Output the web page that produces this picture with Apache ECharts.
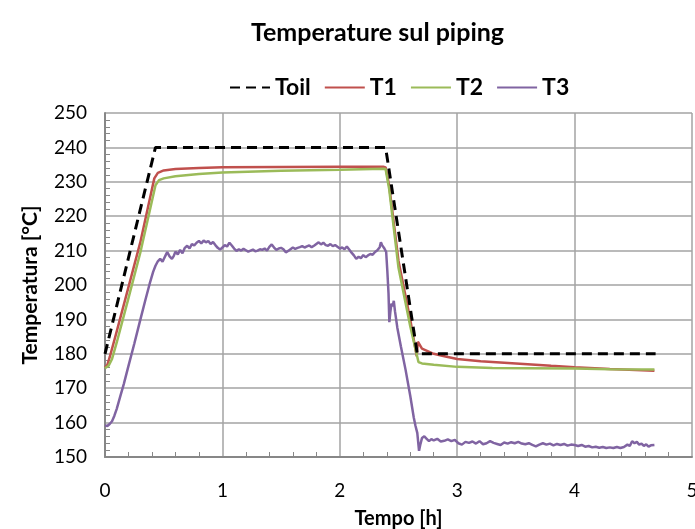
<!DOCTYPE html>
<html>
<head>
<meta charset="utf-8">
<script src="https://cdn.jsdelivr.net/npm/echarts@6/dist/echarts.min.js"></script>
<style>
  html, body { margin: 0; padding: 0; background: #fff; }
  #chart { width: 695px; height: 529px; }
</style>
</head>
<body>
<div id="chart"></div>
<script>
// Axis ticks
const xTicks = [0, 1, 2, 3, 4, 5];
const yTicks = [150, 160, 170, 180, 190, 200, 210, 220, 230, 240, 250];

// Toil: oil set-point temperature [°C] vs time [h]
const toilTime = [0, 0.43, 2.39, 2.66, 4.69];
const toilVal  = [180, 240, 240, 180, 180];

// T1: piping temperature 1
const t1Time = [0, 0.02, 0.04, 0.1, 0.2, 0.3, 0.42, 0.45, 0.5, 0.6, 0.8, 1.0, 1.5, 2.0, 2.37,
  2.39, 2.42, 2.5, 2.6, 2.655, 2.665, 2.7, 2.8, 2.9, 3.0, 3.2, 3.5, 3.8, 4.0, 4.3, 4.68];
const t1Val = [176.0, 176.8, 179.0, 186.5, 199.4, 212.3, 231.0, 232.6, 233.3, 233.7, 234.0, 234.2, 234.3, 234.4, 234.4,
  234.2, 229.0, 207.0, 190.0, 179.3, 183.5, 181.5, 180.0, 179.2, 178.5, 177.8, 177.2, 176.5, 176.1, 175.6, 175.1];

// T2: piping temperature 2
const t2Time = [0, 0.03, 0.06, 0.1, 0.2, 0.3, 0.43, 0.46, 0.5, 0.6, 0.8, 1.0, 1.5, 2.0, 2.37,
  2.39, 2.42, 2.5, 2.6, 2.67, 2.7, 2.8, 3.0, 3.3, 3.6, 4.0, 4.3, 4.68];
const t2Val = [175.8, 176.5, 178.5, 183.3, 196.2, 209.3, 229.0, 230.5, 231.0, 231.6, 232.3, 232.7, 233.2, 233.5, 233.8,
  233.7, 228.0, 205.0, 188.0, 177.6, 177.2, 176.8, 176.2, 175.9, 175.8, 175.7, 175.5, 175.4];

// T3: piping temperature 3
const t3Time = [0.00, 0.02, 0.04, 0.06, 0.08, 0.10, 0.13, 0.16, 0.20, 0.25, 0.30, 0.345, 0.38, 0.41, 0.43,
  0.45, 0.47, 0.49, 0.50, 0.52, 0.53, 0.55, 0.57, 0.585, 0.60, 0.62, 0.64, 0.66, 0.68, 0.70, 0.72, 0.74,
  0.76, 0.78, 0.80, 0.82, 0.84, 0.86, 0.88, 0.90, 0.92, 0.94, 0.96, 0.98, 1.00, 1.02, 1.04, 1.06, 1.08,
  1.10, 1.12, 1.14, 1.16, 1.18, 1.20, 1.22, 1.24, 1.26, 1.28, 1.30, 1.32, 1.34, 1.36, 1.38, 1.40, 1.42,
  1.44, 1.46, 1.48, 1.50, 1.52, 1.54, 1.56, 1.58, 1.60, 1.62, 1.64, 1.66, 1.68, 1.70, 1.72, 1.74, 1.76,
  1.78, 1.80, 1.82, 1.84, 1.86, 1.88, 1.90, 1.92, 1.94, 1.96, 1.98, 2.00, 2.02, 2.04, 2.06, 2.08, 2.10,
  2.12, 2.14, 2.16, 2.18, 2.20, 2.22, 2.24, 2.26, 2.28, 2.30, 2.32, 2.34, 2.35, 2.36, 2.37, 2.38, 2.395,
  2.405, 2.415, 2.422, 2.43, 2.44, 2.45, 2.46, 2.47, 2.49, 2.52, 2.56, 2.60, 2.63, 2.645, 2.66, 2.675,
  2.685, 2.70, 2.72, 2.74, 2.76, 2.78, 2.80, 2.83, 2.86, 2.89, 2.92, 2.95, 2.98, 3.01, 3.04, 3.07, 3.10,
  3.13, 3.16, 3.19, 3.22, 3.25, 3.28, 3.31, 3.34, 3.37, 3.40, 3.43, 3.46, 3.49, 3.52, 3.55, 3.58, 3.61,
  3.64, 3.67, 3.70, 3.73, 3.76, 3.79, 3.82, 3.85, 3.88, 3.91, 3.94, 3.97, 4.00, 4.03, 4.06, 4.09, 4.12,
  4.15, 4.18, 4.21, 4.24, 4.27, 4.30, 4.33, 4.36, 4.39, 4.42, 4.45, 4.47, 4.49, 4.51, 4.53, 4.55, 4.57,
  4.59, 4.61, 4.63, 4.65, 4.68];
const t3Val = [159.2, 159.0, 159.6, 160.4, 162.0, 164.0, 167.6, 171.2, 176.5, 183.0, 189.8, 195.8, 200.3, 203.8, 205.6,
  206.9, 207.6, 206.8, 207.5, 208.9, 209.6, 208.3, 207.6, 208.4, 209.7, 208.9, 210.2, 209.2, 210.8, 211.4, 210.6, 211.9,
  211.5, 212.3, 212.8, 212.1, 212.9, 212.4, 212.8, 211.9, 212.5, 211.6, 210.8, 210.3, 210.9, 211.6, 211.2, 212.3, 211.5,
  210.6, 209.9, 210.4, 210.0, 210.5, 210.1, 209.7, 210.0, 210.3, 209.8, 210.0, 210.4, 210.2, 210.6, 210.0, 211.1, 211.8,
  210.9, 210.2, 210.6, 210.8, 210.4, 209.5, 209.9, 210.4, 210.9, 210.5, 210.8, 211.0, 211.3, 210.9, 211.2, 211.5, 211.0,
  211.4, 211.9, 212.4, 211.8, 212.3, 211.6, 211.4, 211.9, 211.3, 211.6, 211.1, 210.6, 210.9, 210.4, 211.2, 210.3, 209.4,
  208.6, 207.6, 208.2, 207.8, 208.7, 208.1, 208.6, 209.0, 208.8, 209.6, 210.1, 211.0, 212.4, 211.6, 212.0, 210.6, 209.6,
  204.0, 197.5, 189.2, 192.0, 194.6, 193.8, 195.4, 192.4, 187.6, 182.2, 175.4, 167.8, 161.5, 159.0, 157.0, 151.8,
  153.5, 155.5, 156.0, 155.3, 154.6, 155.2, 154.8, 155.3, 154.5, 154.7, 155.1, 154.6, 155.0, 154.0, 153.6, 154.4, 154.1,
  154.5, 153.9, 154.6, 153.7, 154.0, 154.6, 154.1, 153.8, 153.5, 154.2, 153.9, 154.3, 154.0, 154.4, 153.9, 153.7, 154.0,
  153.5, 153.1, 153.6, 154.0, 153.6, 153.9, 153.4, 153.8, 153.5, 153.8, 153.3, 153.6, 153.5, 153.2, 153.5, 153.0, 153.2,
  152.8, 153.0, 152.7, 152.9, 152.6, 152.8, 152.6, 152.9, 152.6, 152.9, 153.6, 153.2, 154.6, 154.0, 154.4, 153.6, 153.9,
  153.2, 153.7, 153.0, 153.4, 153.5];

const zip = (xs, ys) => xs.map((x, i) => [x, ys[i]]);

const FONT = 'Lato, "Open Sans", sans-serif';
const gridColor = '#a3a3a3';
const axisColor = '#878787';

const chart = echarts.init(document.getElementById('chart'), null, { renderer: 'canvas' });

chart.setOption({
  animation: false,
  backgroundColor: '#ffffff',
  textStyle: { fontFamily: FONT },
  title: {
    text: 'Temperature sul piping',
    left: 246,
    top: 15,
    textStyle: { fontFamily: FONT, fontSize: 25, fontWeight: 'bold', color: '#000' }
  },
  legend: {
    left: 224,
    top: 71,
    itemWidth: 40,
    itemHeight: 14,
    itemGap: 13,
    textStyle: { fontFamily: FONT, fontSize: 23, fontWeight: 'bold', color: '#000' },
    itemStyle: { color: 'rgba(0,0,0,0)', borderWidth: 0, opacity: 0 },
    data: ['Toil', 'T1', 'T2', 'T3']
  },
  grid: { left: 105, right: 3, top: 113, bottom: 72, containLabel: false, outerBoundsMode: 'none' },
  xAxis: {
    type: 'value',
    min: xTicks[0],
    max: xTicks[xTicks.length - 1],
    interval: 1,
    name: 'Tempo [h]',
    nameLocation: 'middle',
    nameGap: 52,
    nameTextStyle: { fontFamily: FONT, fontSize: 20, fontWeight: 'bold', color: '#000' },
    axisLine: { show: true, onZero: false, lineStyle: { color: axisColor, width: 2 } },
    axisTick: { show: false, inside: true },
    minorTick: { show: true, splitNumber: 5, length: 5, lineStyle: { color: axisColor, width: 1 } },
    axisLabel: { fontFamily: FONT, fontSize: 19, color: '#000', margin: 24 },
    splitLine: { show: true, lineStyle: { color: gridColor, width: 1.5 } }
  },
  yAxis: {
    type: 'value',
    min: yTicks[0],
    max: yTicks[yTicks.length - 1],
    interval: 10,
    name: 'Temperatura [°C]',
    nameLocation: 'middle',
    nameRotate: 90,
    nameGap: 64,
    nameTextStyle: { fontFamily: FONT, fontSize: 21, fontWeight: 'bold', color: '#000' },
    axisLine: { show: true, lineStyle: { color: axisColor, width: 2 } },
    axisTick: { show: false, inside: true },
    minorTick: { show: true, splitNumber: 5, length: 5, lineStyle: { color: axisColor, width: 1 } },
    axisLabel: { fontFamily: FONT, fontSize: 19, color: '#000', margin: 18 },
    splitLine: { show: true, lineStyle: { color: gridColor, width: 1.5 } }
  },
  series: [
    {
      name: 'Toil', type: 'line', symbol: 'none', z: 5,
      data: zip(toilTime, toilVal),
      lineStyle: { color: '#000', width: 3, type: [10, 6] },
      itemStyle: { color: '#000' }
    },
    {
      name: 'T1', type: 'line', symbol: 'none', z: 2,
      data: zip(t1Time, t1Val),
      lineStyle: { color: '#C0504D', width: 2.5 },
      itemStyle: { color: '#C0504D' }
    },
    {
      name: 'T2', type: 'line', symbol: 'none', z: 3,
      data: zip(t2Time, t2Val),
      lineStyle: { color: '#9BBB59', width: 2.5 },
      itemStyle: { color: '#9BBB59' }
    },
    {
      name: 'T3', type: 'line', symbol: 'none', z: 4,
      data: zip(t3Time, t3Val),
      lineStyle: { color: '#8064A2', width: 2.5 },
      itemStyle: { color: '#8064A2' }
    }
  ]
});
</script>
</body>
</html>
